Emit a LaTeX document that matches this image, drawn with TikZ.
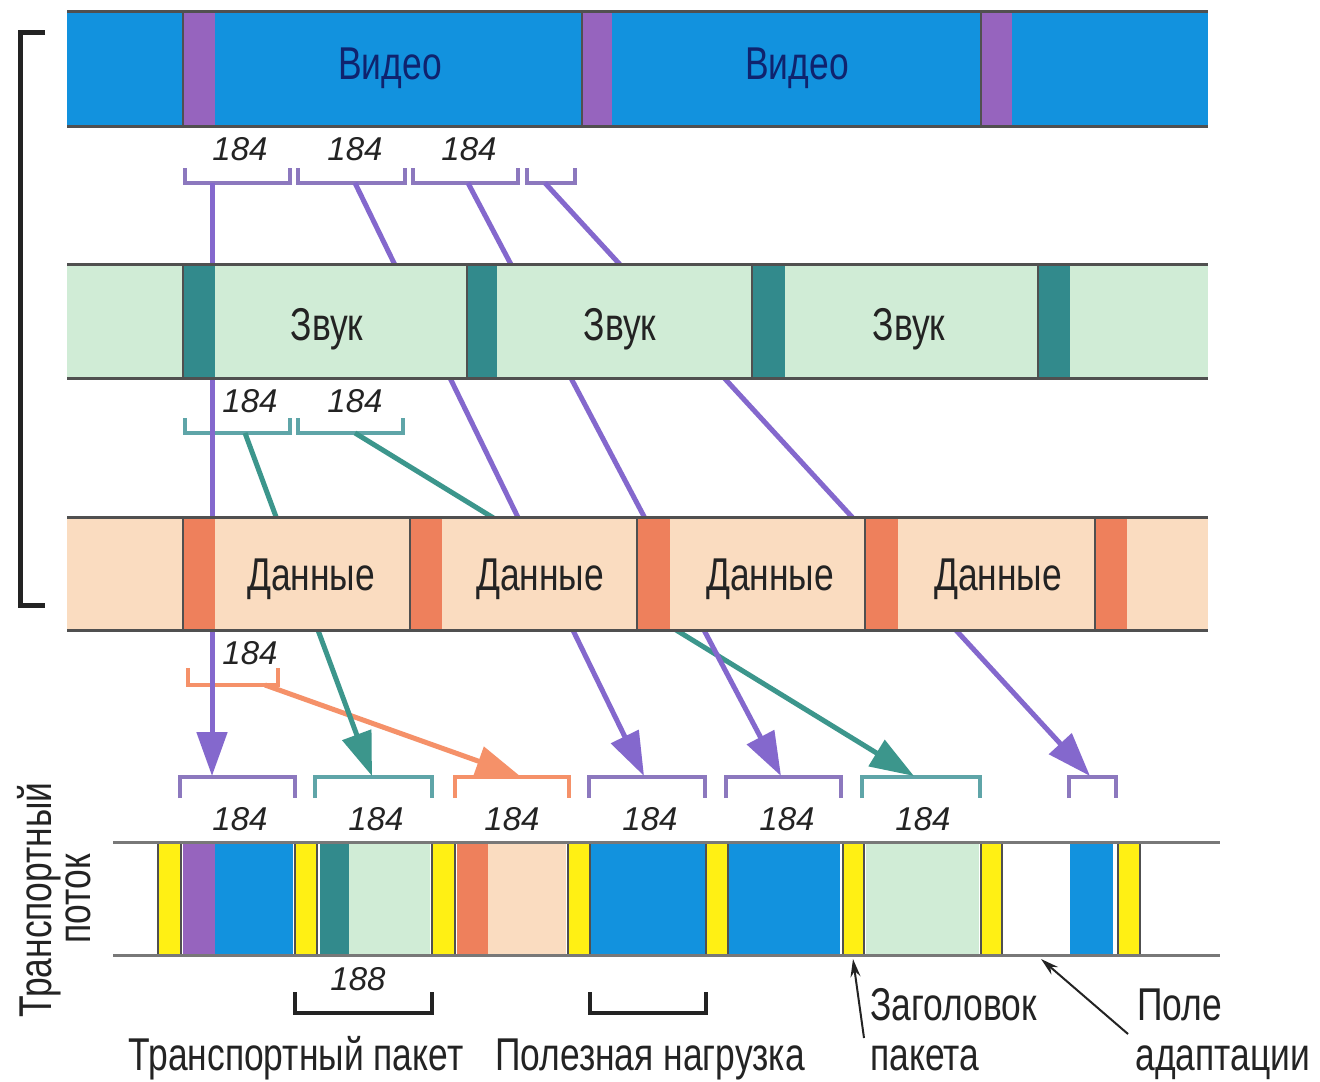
\documentclass[tikz,border=0pt]{standalone}
\usepackage{fontspec}
\setmainfont{Liberation Sans}
\newfontfamily\narrow{Liberation Sans}[FakeStretch=0.77]
\usetikzlibrary{arrows.meta}
\definecolor{vblue}{RGB}{18,146,222}
\definecolor{vpurp}{RGB}{150,100,190}
\definecolor{navy}{RGB}{15,35,110}
\definecolor{agreen}{RGB}{208,236,214}
\definecolor{ateal}{RGB}{50,138,140}
\definecolor{dpeach}{RGB}{250,220,192}
\definecolor{dsalm}{RGB}{238,128,92}
\definecolor{tyell}{RGB}{255,240,20}
\definecolor{lnP}{RGB}{132,104,205}
\definecolor{lnT}{RGB}{60,150,140}
\definecolor{lnS}{RGB}{245,145,105}
\definecolor{brP}{RGB}{140,120,190}
\definecolor{brT}{RGB}{95,165,168}
\definecolor{edgec}{RGB}{80,80,80}
\definecolor{txt}{RGB}{35,35,35}
\begin{document}
\begin{tikzpicture}[x=0.5pt,y=-0.5pt,
  lbl/.style={font=\narrow\fontsize{23}{23}\selectfont, text=txt, inner sep=0pt, anchor=base},
  num/.style={font=\itshape\fontsize{16.5}{16.5}\selectfont, text=txt, inner sep=0pt, anchor=base},
  tipbig/.style={-{Triangle[length=22pt,width=15pt]}},
  conP/.style={draw=lnP, line width=2.5pt, tipbig},
  conT/.style={draw=lnT, line width=2.5pt, tipbig},
  conS/.style={draw=lnS, line width=2.5pt, tipbig},
  brk/.style={line width=2pt},
  bandedge/.style={draw=edgec, line width=1.5pt},
  sepl/.style={draw=edgec, line width=1pt},
  tband/.style={draw={rgb,255:red,120;green,120;blue,120}, line width=1.5pt},
  yel/.style={fill=tyell, draw=edgec, line width=0.8pt},
  thinarr/.style={draw=txt, line width=1pt, -{Stealth[length=9pt,width=5pt]}}]
\useasboundingbox (0,0) rectangle (1320,1081);
\fill[white] (0,0) rectangle (1320,1081);

% ---------- brackets ----------
\draw[brk, brP] (185,168) -- (185,183) -- (290,183) -- (290,168);
\draw[brk, brP] (298,168) -- (298,183) -- (405,183) -- (405,168);
\draw[brk, brP] (413,168) -- (413,183) -- (518,183) -- (518,168);
\draw[brk, brP] (527,168) -- (527,183) -- (575,183) -- (575,168);
\draw[brk, brT] (185,418) -- (185,433) -- (290,433) -- (290,418);
\draw[brk, brT] (298,418) -- (298,433) -- (403,433) -- (403,418);
\draw[brk, lnS] (188,668) -- (188,685) -- (278,685) -- (278,668);
% transport brackets
\draw[brk, brP] (180,798) -- (180,777) -- (295,777) -- (295,798);
\draw[brk, brT] (315,798) -- (315,777) -- (432,777) -- (432,798);
\draw[brk, lnS] (455,798) -- (455,777) -- (569,777) -- (569,798);
\draw[brk, brP] (589,798) -- (589,777) -- (705,777) -- (705,798);
\draw[brk, brP] (726,798) -- (726,777) -- (841,777) -- (841,798);
\draw[brk, brT] (862,798) -- (862,777) -- (980,777) -- (980,798);
\draw[brk, brP] (1069,798) -- (1069,777) -- (1116,777) -- (1116,798);

% ---------- connector endpoints ----------
\coordinate (va1) at (212,183);
\coordinate (va2) at (355,183);
\coordinate (va3) at (468,183);
\coordinate (va4) at (545,183);
\coordinate (za1) at (245,433);
\coordinate (za2) at (355,433);
\coordinate (da1) at (265,685);
\coordinate (tp1) at (212,776);
\coordinate (tp2) at (372,776);
\coordinate (tp3) at (520,776);
\coordinate (tp4) at (644,776);
\coordinate (tp5) at (781,776);
\coordinate (tp6) at (914,776);
\coordinate (tp7) at (1090,776);

% ---------- connectors (behind the bands) ----------
\draw[conS] (da1) -- (tp3);
\draw[conT] (za1) -- (tp2);
\draw[conT] (za2) -- (tp6);
\draw[conP] (va1) -- (tp1);
\draw[conP] (va2) -- (tp4);
\draw[conP] (va3) -- (tp5);
\draw[conP] (va4) -- (tp7);

% ---------- video band ----------
\fill[vblue] (67,12) rectangle (1208,126);
\foreach \a/\b in {183/215,582/612,981/1012}{
  \fill[vpurp] (\a,12) rectangle (\b,126);
  \draw[sepl] (\a,12) -- (\a,126);
}
\draw[bandedge] (67,12) -- (1208,12);
\draw[bandedge] (67,126) -- (1208,126);
\node[lbl, text=navy] (v1) at (390,80) {Видео};
\node[lbl, text=navy] (v2) at (797,80) {Видео};

% ---------- audio band ----------
\fill[agreen] (67,264) rectangle (1208,378);
\foreach \a/\b in {183/215,467/497,752/785,1038/1070}{
  \fill[ateal] (\a,264) rectangle (\b,378);
  \draw[sepl] (\a,264) -- (\a,378);
}
\draw[bandedge] (67,264) -- (1208,264);
\draw[bandedge] (67,378) -- (1208,378);
\node[lbl] (a1) at (327,340) {Звук};
\node[lbl] (a2) at (620,340) {Звук};
\node[lbl] (a3) at (909,340) {Звук};

% ---------- data band ----------
\fill[dpeach] (67,517) rectangle (1208,630);
\foreach \a/\b in {183/215,410/442,637/670,865/898,1095/1127}{
  \fill[dsalm] (\a,517) rectangle (\b,630);
  \draw[sepl] (\a,517) -- (\a,630);
}
\draw[bandedge] (67,517) -- (1208,517);
\draw[bandedge] (67,630) -- (1208,630);
\node[lbl] (d1) at (311,590) {Данные};
\node[lbl] (d2) at (540,590) {Данные};
\node[lbl] (d3) at (770,590) {Данные};
\node[lbl] (d4) at (998,590) {Данные};

% ---------- left bracket ----------
\draw[line width=2.5pt, txt] (45,33) -- (20,33) -- (20,605) -- (45,605);

% ---------- 184 labels ----------
\node[num] (n1) at (240,160) {184};
\node[num] (n2) at (355,160) {184};
\node[num] (n3) at (469,160) {184};
\node[num] (n4) at (250,412) {184};
\node[num] (n5) at (355,412) {184};
\node[num] (n6) at (250,664) {184};
\node[num] (m1) at (240,830) {184};
\node[num] (m2) at (376,830) {184};
\node[num] (m3) at (512,830) {184};
\node[num] (m4) at (650,830) {184};
\node[num] (m5) at (787,830) {184};
\node[num] (m6) at (923,830) {184};

% ---------- transport stream ----------
\fill[vpurp] (183,842) rectangle (215,955);
\fill[vblue] (215,842) rectangle (293,955);
\fill[ateal] (320,842) rectangle (349,955);
\fill[agreen] (349,842) rectangle (430,955);
\fill[dsalm] (457,842) rectangle (488,955);
\fill[dpeach] (488,842) rectangle (566,955);
\fill[vblue] (591,842) rectangle (706,955);
\fill[vblue] (729,842) rectangle (840,955);
\fill[agreen] (866,842) rectangle (979,955);
\fill[vblue] (1070,842) rectangle (1113,955);
\foreach \a/\b in {158/181,295/317,432/455,568/590,706/728,843/864,981/1002,1118/1140}{
  \draw[yel] (\a,842) rectangle (\b,955);
}
\draw[tband] (113,842) -- (1220,842);
\draw[tband] (113,955) -- (1220,955);
\node[lbl, rotate=90] (ts1) at (51,900) {Транспортный};
\node[lbl, rotate=90] (ts2) at (90,899) {поток};

% ---------- bottom annotations ----------
\node[num] (n188) at (358,990) {188};
\draw[brk, txt] (295,992) -- (295,1013) -- (432,1013) -- (432,992);
\draw[brk, txt] (590,992) -- (590,1013) -- (706,1013) -- (706,992);
\node[lbl] (tp) at (296,1070) {Транспортный пакет};
\node[lbl] (pn) at (650,1070) {Полезная нагрузка};
\node[lbl, anchor=base west] (zg) at (870,1020) {Заголовок};
\node[lbl, anchor=base west] (pk) at (870,1070) {пакета};
\node[lbl, anchor=base west] (pl) at (1137,1020) {Поле};
\node[lbl, anchor=base west] (ad) at (1135,1070) {адаптации};
\coordinate (hdrpt) at (853,959);
\coordinate (adpt) at (1041,959);
\coordinate (hdrfoot) at (864,1038);
\coordinate (adfoot) at (1128,1034);
\draw[thinarr] (hdrfoot) -- (hdrpt);
\draw[thinarr] (adfoot) -- (adpt);
\end{tikzpicture}
\end{document}
